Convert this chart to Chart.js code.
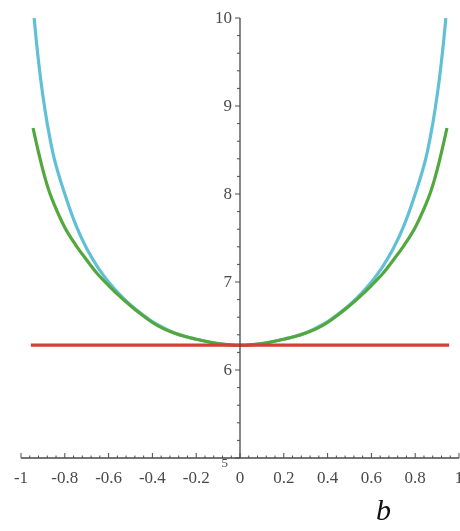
<!DOCTYPE html>
<html>
<head>
<meta charset="utf-8">
<script src="https://cdn.jsdelivr.net/npm/chart.js@4/dist/chart.umd.min.js"></script>
<style>
  body { margin: 0; background: #fff; }
  #wrap { position: relative; width: 460px; height: 531px; }
</style>
</head>
<body>
<div id="wrap"><canvas id="myChart"></canvas></div>
<script>
// values
const cyanB = [-0.94, -0.93, -0.91, -0.89, -0.87, -0.85, -0.8, -0.75, -0.7, -0.65, -0.6, -0.55, -0.5, -0.45, -0.4, -0.35, -0.3, -0.25, -0.2, -0.1, 0,
               0.1, 0.2, 0.25, 0.3, 0.35, 0.4, 0.45, 0.5, 0.55, 0.6, 0.65, 0.7, 0.75, 0.8, 0.85, 0.87, 0.89, 0.91, 0.93, 0.94];
const cyanVals = [10.0, 9.74, 9.30, 8.95, 8.66, 8.42, 8.00, 7.65, 7.38, 7.17, 7.00, 6.86, 6.74, 6.64, 6.55, 6.48, 6.42, 6.38, 6.35, 6.30, 6.28,
                  6.30, 6.35, 6.38, 6.42, 6.48, 6.55, 6.64, 6.74, 6.86, 7.00, 7.17, 7.38, 7.65, 8.00, 8.42, 8.66, 8.95, 9.30, 9.74, 10.0];
const greenB = [-0.945, -0.93, -0.91, -0.89, -0.87, -0.85, -0.8, -0.75, -0.7, -0.65, -0.6, -0.55, -0.5, -0.45, -0.4, -0.35, -0.3, -0.25, -0.2, -0.1, 0,
                0.1, 0.2, 0.25, 0.3, 0.35, 0.4, 0.45, 0.5, 0.55, 0.6, 0.65, 0.7, 0.75, 0.8, 0.85, 0.87, 0.89, 0.91, 0.93, 0.945];
const greenVals = [8.75, 8.58, 8.37, 8.18, 8.02, 7.89, 7.62, 7.42, 7.25, 7.09, 6.96, 6.84, 6.73, 6.63, 6.54, 6.47, 6.42, 6.38, 6.35, 6.30, 6.28,
                   6.30, 6.35, 6.38, 6.42, 6.47, 6.54, 6.63, 6.73, 6.84, 6.96, 7.09, 7.25, 7.42, 7.62, 7.89, 8.02, 8.18, 8.37, 8.58, 8.75];
const redB = [-0.955, 0.955];
const redVals = [6.283, 6.283];
const xTicks = [-1, -0.8, -0.6, -0.4, -0.2, 0, 0.2, 0.4, 0.6, 0.8, 1];
const yTicks = [5, 6, 7, 8, 9, 10];
const axisTitle = 'b';

function pts(xs, ys) {
  return xs.map((x, i) => ({x: x, y: ys[i]}));
}

function tickLabel(v) {
  if (Math.abs(v) < 1e-9) return '0';
  return String(Math.round(v * 10) / 10);
}

const labelFont = '17px "Liberation Serif", "DejaVu Serif", serif';

// axis lines, major/minor ticks, y labels and axis title (Maple style)
const axesPlugin = {
  id: 'mapleAxes',
  afterDatasetsDraw(chart) {
    const c = chart.ctx;
    const xs = chart.scales.x, ys = chart.scales.y;
    const x0 = xs.getPixelForValue(0);
    const y0 = ys.getPixelForValue(5);
    c.save();
    c.strokeStyle = '#4a4a4a';
    c.lineWidth = 1.3;
    c.beginPath();
    c.moveTo(xs.left, y0); c.lineTo(xs.right, y0);
    c.moveTo(x0, ys.top); c.lineTo(x0, ys.bottom);
    c.stroke();
    c.lineWidth = 1;
    c.beginPath();
    for (let i = -25; i <= 25; i++) {
      const px = xs.getPixelForValue(i * 0.04);
      const len = (i % 5 === 0) ? 5 : 2.5;
      c.moveTo(px, y0); c.lineTo(px, y0 - len);
    }
    for (let i = 0; i <= 25; i++) {
      const py = ys.getPixelForValue(5 + i * 0.2);
      const len = (i % 5 === 0) ? 5 : 3;
      c.moveTo(x0, py); c.lineTo(x0 - len, py);
    }
    c.stroke();

    c.fillStyle = '#4a4a4a';
    c.font = labelFont;
    c.textAlign = 'right';
    c.textBaseline = 'middle';
    yTicks.forEach(v => {
      const py = ys.getPixelForValue(v);
      if (v === 5) {
        c.font = '13px "Liberation Serif", serif';
        c.fillText(String(v), x0 - 12, py + 6);
        c.font = labelFont;
      } else {
        c.fillText(String(v), x0 - 8, py + 1);
      }
    });

    c.fillStyle = '#111';
    c.font = 'italic 30px "Liberation Serif", "DejaVu Serif", serif';
    c.textAlign = 'center';
    c.fillText(axisTitle, xs.getPixelForValue(0.655), 512);
    c.restore();
  }
};

const ctx = document.getElementById('myChart');

const c = new Chart(ctx, {
  type: 'line',
  data: {
    datasets: [
      {
        label: 'red',
        data: pts(redB, redVals),
        borderColor: 'rgb(214, 62, 52)',
        borderWidth: 3.2,
        pointRadius: 0,
        order: 0
      },
      {
        label: 'green',
        data: pts(greenB, greenVals),
        borderColor: 'rgb(82, 168, 62)',
        borderWidth: 3.2,
        pointRadius: 0,
        cubicInterpolationMode: 'monotone',
        order: 1
      },
      {
        label: 'cyan',
        data: pts(cyanB, cyanVals),
        borderColor: 'rgb(98, 192, 214)',
        borderWidth: 3.2,
        pointRadius: 0,
        cubicInterpolationMode: 'monotone',
        order: 2
      }
    ]
  },
  options: {
    responsive: true,
    maintainAspectRatio: false,
    animation: false,
    layout: { padding: { left: 21, right: 1, top: 18, bottom: 0 } },
    plugins: { legend: { display: false }, tooltip: { enabled: false } },
    scales: {
      x: {
        type: 'linear',
        min: -1,
        max: 1,
        position: 'bottom',
        grid: { display: false, drawTicks: false },
        border: { display: false },
        afterBuildTicks: (s) => { s.ticks = xTicks.map(v => ({value: v})); },
        afterFit: (s) => { s.height = 73; s.paddingLeft = 0; s.paddingRight = 0; },
        ticks: {
          padding: 10,
          maxRotation: 0,
          autoSkip: false,
          color: '#4a4a4a',
          font: { family: '"Liberation Serif", serif', size: 17 },
          callback: (v) => tickLabel(v)
        }
      },
      y: {
        type: 'linear',
        min: 5,
        max: 10,
        position: { x: 0 },
        grid: { display: false, drawTicks: false },
        border: { display: false },
        afterFit: (s) => { s.paddingTop = 0; s.paddingBottom = 0; },
        ticks: { display: false }
      }
    }
  },
  plugins: [axesPlugin]
});
</script>
</body>
</html>
